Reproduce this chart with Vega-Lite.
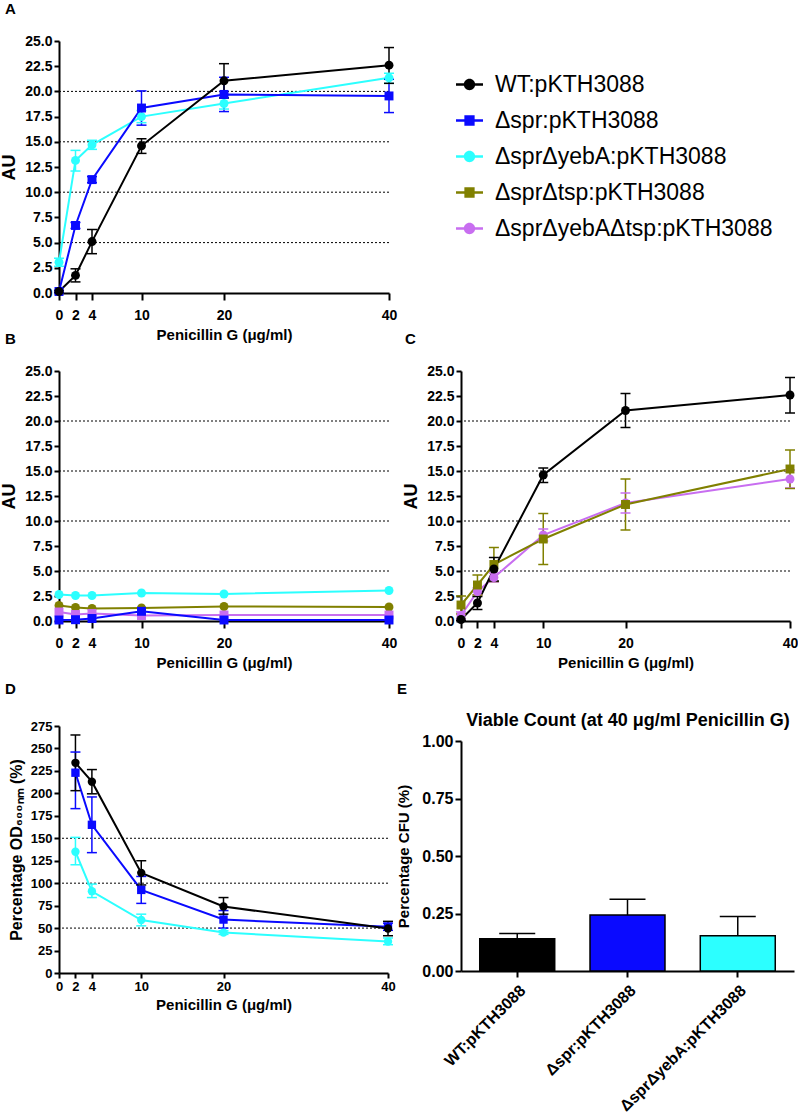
{
  "$schema": "https://vega.github.io/schema/vega-lite/v6.json",
  "padding": {"left": 0, "top": 2, "right": 0, "bottom": 0},
  "background": "white",
  "columns": 2,
  "spacing": {"row": -10, "column": -1},
  "align": {"row": "none", "column": "each"},
  "bounds": "full",
  "resolve": {"scale": {"color": "independent", "shape": "independent"}, "legend": {"color": "independent", "shape": "independent"}},
  "datasets": {
    "grid": [
      {"p": "A", "y": 5}, {"p": "A", "y": 10}, {"p": "A", "y": 15}, {"p": "A", "y": 20},
      {"p": "B", "y": 5}, {"p": "B", "y": 10}, {"p": "B", "y": 15}, {"p": "B", "y": 20},
      {"p": "C", "y": 5}, {"p": "C", "y": 10}, {"p": "C", "y": 15}, {"p": "C", "y": 20},
      {"p": "D", "y": 50}, {"p": "D", "y": 100}, {"p": "D", "y": 150}
    ],
    "curves": [
      {"p": "A", "s": "ΔsprΔyebA:pKTH3088", "x": 0, "y": 3.05, "lo": 2.65, "hi": 3.45},
      {"p": "A", "s": "ΔsprΔyebA:pKTH3088", "x": 2, "y": 13.15, "lo": 12.1, "hi": 14.15},
      {"p": "A", "s": "ΔsprΔyebA:pKTH3088", "x": 4, "y": 14.7, "lo": 14.25, "hi": 15.15},
      {"p": "A", "s": "ΔsprΔyebA:pKTH3088", "x": 10, "y": 17.5, "lo": 16.9, "hi": 18.1},
      {"p": "A", "s": "ΔsprΔyebA:pKTH3088", "x": 20, "y": 18.8, "lo": 18.25, "hi": 19.35},
      {"p": "A", "s": "ΔsprΔyebA:pKTH3088", "x": 40, "y": 21.35, "lo": 20.8, "hi": 21.8},
      {"p": "A", "s": "Δspr:pKTH3088", "x": 0, "y": 0.15, "lo": 0.05, "hi": 0.25},
      {"p": "A", "s": "Δspr:pKTH3088", "x": 2, "y": 6.7, "lo": 6.4, "hi": 7.0},
      {"p": "A", "s": "Δspr:pKTH3088", "x": 4, "y": 11.25, "lo": 10.95, "hi": 11.55},
      {"p": "A", "s": "Δspr:pKTH3088", "x": 10, "y": 18.35, "lo": 16.65, "hi": 20.05},
      {"p": "A", "s": "Δspr:pKTH3088", "x": 20, "y": 19.7, "lo": 18.0, "hi": 21.4},
      {"p": "A", "s": "Δspr:pKTH3088", "x": 40, "y": 19.55, "lo": 17.9, "hi": 21.2},
      {"p": "A", "s": "WT:pKTH3088", "x": 0, "y": 0.15, "lo": 0.05, "hi": 0.25},
      {"p": "A", "s": "WT:pKTH3088", "x": 2, "y": 1.75, "lo": 1.1, "hi": 2.4},
      {"p": "A", "s": "WT:pKTH3088", "x": 4, "y": 5.1, "lo": 3.9, "hi": 6.3},
      {"p": "A", "s": "WT:pKTH3088", "x": 10, "y": 14.6, "lo": 13.85, "hi": 15.3},
      {"p": "A", "s": "WT:pKTH3088", "x": 20, "y": 21.05, "lo": 19.35, "hi": 22.75},
      {"p": "A", "s": "WT:pKTH3088", "x": 40, "y": 22.6, "lo": 20.8, "hi": 24.35},

      {"p": "B", "s": "ΔsprΔyebA:pKTH3088", "x": 0, "y": 2.65},
      {"p": "B", "s": "ΔsprΔyebA:pKTH3088", "x": 2, "y": 2.55},
      {"p": "B", "s": "ΔsprΔyebA:pKTH3088", "x": 4, "y": 2.55},
      {"p": "B", "s": "ΔsprΔyebA:pKTH3088", "x": 10, "y": 2.8},
      {"p": "B", "s": "ΔsprΔyebA:pKTH3088", "x": 20, "y": 2.7},
      {"p": "B", "s": "ΔsprΔyebA:pKTH3088", "x": 40, "y": 3.05},
      {"p": "B", "s": "ΔsprΔtsp:pKTH3088", "x": 0, "y": 1.55},
      {"p": "B", "s": "ΔsprΔtsp:pKTH3088", "x": 2, "y": 1.35},
      {"p": "B", "s": "ΔsprΔtsp:pKTH3088", "x": 4, "y": 1.25},
      {"p": "B", "s": "ΔsprΔtsp:pKTH3088", "x": 10, "y": 1.3},
      {"p": "B", "s": "ΔsprΔtsp:pKTH3088", "x": 20, "y": 1.45},
      {"p": "B", "s": "ΔsprΔtsp:pKTH3088", "x": 40, "y": 1.4},
      {"p": "B", "s": "ΔsprΔyebAΔtsp:pKTH3088", "x": 0, "y": 0.9},
      {"p": "B", "s": "ΔsprΔyebAΔtsp:pKTH3088", "x": 2, "y": 0.65},
      {"p": "B", "s": "ΔsprΔyebAΔtsp:pKTH3088", "x": 4, "y": 0.75},
      {"p": "B", "s": "ΔsprΔyebAΔtsp:pKTH3088", "x": 10, "y": 0.55},
      {"p": "B", "s": "ΔsprΔyebAΔtsp:pKTH3088", "x": 20, "y": 0.6},
      {"p": "B", "s": "ΔsprΔyebAΔtsp:pKTH3088", "x": 40, "y": 0.6},
      {"p": "B", "s": "Δspr:pKTH3088", "x": 0, "y": 0.1},
      {"p": "B", "s": "Δspr:pKTH3088", "x": 2, "y": 0.13},
      {"p": "B", "s": "Δspr:pKTH3088", "x": 4, "y": 0.25},
      {"p": "B", "s": "Δspr:pKTH3088", "x": 10, "y": 0.97},
      {"p": "B", "s": "Δspr:pKTH3088", "x": 20, "y": 0.1},
      {"p": "B", "s": "Δspr:pKTH3088", "x": 40, "y": 0.1},

      {"p": "C", "s": "ΔsprΔyebAΔtsp:pKTH3088", "x": 0, "y": 0.55, "lo": 0.2, "hi": 0.9},
      {"p": "C", "s": "ΔsprΔyebAΔtsp:pKTH3088", "x": 2, "y": 2.95, "lo": 2.6, "hi": 3.3},
      {"p": "C", "s": "ΔsprΔyebAΔtsp:pKTH3088", "x": 4, "y": 4.35, "lo": 3.9, "hi": 4.8},
      {"p": "C", "s": "ΔsprΔyebAΔtsp:pKTH3088", "x": 10, "y": 8.6, "lo": 8.0, "hi": 9.2},
      {"p": "C", "s": "ΔsprΔyebAΔtsp:pKTH3088", "x": 20, "y": 11.8, "lo": 10.8, "hi": 12.8},
      {"p": "C", "s": "ΔsprΔyebAΔtsp:pKTH3088", "x": 40, "y": 14.2, "lo": 13.3, "hi": 15.1},
      {"p": "C", "s": "ΔsprΔtsp:pKTH3088", "x": 0, "y": 1.6, "lo": 0.7, "hi": 2.5},
      {"p": "C", "s": "ΔsprΔtsp:pKTH3088", "x": 2, "y": 3.6, "lo": 2.6, "hi": 4.6},
      {"p": "C", "s": "ΔsprΔtsp:pKTH3088", "x": 4, "y": 5.65, "lo": 3.95, "hi": 7.35},
      {"p": "C", "s": "ΔsprΔtsp:pKTH3088", "x": 10, "y": 8.2, "lo": 5.65, "hi": 10.75},
      {"p": "C", "s": "ΔsprΔtsp:pKTH3088", "x": 20, "y": 11.65, "lo": 9.1, "hi": 14.2},
      {"p": "C", "s": "ΔsprΔtsp:pKTH3088", "x": 40, "y": 15.2, "lo": 13.25, "hi": 17.1},
      {"p": "C", "s": "WT:pKTH3088", "x": 0, "y": 0.15, "lo": 0.05, "hi": 0.25},
      {"p": "C", "s": "WT:pKTH3088", "x": 2, "y": 1.8, "lo": 1.15, "hi": 2.45},
      {"p": "C", "s": "WT:pKTH3088", "x": 4, "y": 5.2, "lo": 4.0, "hi": 6.35},
      {"p": "C", "s": "WT:pKTH3088", "x": 10, "y": 14.6, "lo": 13.85, "hi": 15.3},
      {"p": "C", "s": "WT:pKTH3088", "x": 20, "y": 21.05, "lo": 19.35, "hi": 22.75},
      {"p": "C", "s": "WT:pKTH3088", "x": 40, "y": 22.6, "lo": 20.8, "hi": 24.35},

      {"p": "D", "s": "ΔsprΔyebA:pKTH3088", "x": 2, "y": 135, "lo": 120.5, "hi": 151},
      {"p": "D", "s": "ΔsprΔyebA:pKTH3088", "x": 4, "y": 91, "lo": 84, "hi": 99},
      {"p": "D", "s": "ΔsprΔyebA:pKTH3088", "x": 10, "y": 59, "lo": 52.5, "hi": 65.5},
      {"p": "D", "s": "ΔsprΔyebA:pKTH3088", "x": 20, "y": 45, "lo": 43, "hi": 47},
      {"p": "D", "s": "ΔsprΔyebA:pKTH3088", "x": 40, "y": 35, "lo": 31.5, "hi": 39},
      {"p": "D", "s": "Δspr:pKTH3088", "x": 2, "y": 223, "lo": 183, "hi": 246},
      {"p": "D", "s": "Δspr:pKTH3088", "x": 4, "y": 165, "lo": 134, "hi": 196},
      {"p": "D", "s": "Δspr:pKTH3088", "x": 10, "y": 92.5, "lo": 77.5, "hi": 107.5},
      {"p": "D", "s": "Δspr:pKTH3088", "x": 20, "y": 59.5, "lo": 50, "hi": 69.5},
      {"p": "D", "s": "Δspr:pKTH3088", "x": 40, "y": 51.5, "lo": 47.5, "hi": 55.5},
      {"p": "D", "s": "WT:pKTH3088", "x": 2, "y": 234, "lo": 203, "hi": 265},
      {"p": "D", "s": "WT:pKTH3088", "x": 4, "y": 213, "lo": 199.5, "hi": 226.5},
      {"p": "D", "s": "WT:pKTH3088", "x": 10, "y": 111.5, "lo": 98, "hi": 125},
      {"p": "D", "s": "WT:pKTH3088", "x": 20, "y": 74, "lo": 65.5, "hi": 84},
      {"p": "D", "s": "WT:pKTH3088", "x": 40, "y": 49.5, "lo": 41.5, "hi": 57.5}
    ],
    "bars": [
      {"s": "WT:pKTH3088", "y": 0.14, "hi": 0.163},
      {"s": "Δspr:pKTH3088", "y": 0.243, "hi": 0.312},
      {"s": "ΔsprΔyebA:pKTH3088", "y": 0.153, "hi": 0.237}
    ]
  },
  "concat": [
    {
      "title": {"text": "A", "dx": -54, "fontSize": 15, "offset": 17},
      "width": 330, "height": 252,
      "layer": [
        {"data": {"name": "grid"}, "transform": [{"filter": "datum.p === 'A'"}],
         "mark": {"type": "rule", "strokeDash": [2, 2], "color": "black", "strokeWidth": 1},
         "encoding": {"y": {"field": "y", "type": "quantitative", "title": "AU", "scale": {"domain": [0, 25], "nice": false},
           "axis": {"values": [0, 2.5, 5, 7.5, 10, 12.5, 15, 17.5, 20, 22.5, 25], "format": ".1f", "labelFontSize": 14, "tickSize": 5, "labelPadding": 2, "titleFontSize": 18, "titlePadding": 6, "labelOverlap": false, "labelFlush": false}}}},
        {"data": {"name": "curves"}, "transform": [{"filter": "datum.p === 'A'"}],
         "encoding": {
           "x": {"field": "x", "type": "quantitative", "title": "Penicillin G (μg/ml)", "scale": {"domain": [0, 40], "nice": false},
             "axis": {"values": [0, 2, 4, 10, 20, 40], "format": "d", "labelFontSize": 14, "tickSize": 7, "labelPadding": 8, "titleFontSize": 15, "titlePadding": 5, "labelOverlap": false, "labelFlush": false}},
           "color": {"field": "s", "type": "nominal", "legend": null, "scale": {"domain": ["WT:pKTH3088", "Δspr:pKTH3088", "ΔsprΔyebA:pKTH3088", "ΔsprΔtsp:pKTH3088", "ΔsprΔyebAΔtsp:pKTH3088"], "range": ["#000000", "#0a0aff", "#2cffff", "#808000", "#c86ef0"]}}
         },
         "layer": [
           {"mark": {"type": "line", "strokeWidth": 2},
            "encoding": {"y": {"field": "y", "type": "quantitative", "title": "AU", "scale": {"domain": [0, 25], "nice": false},
              "axis": {"values": [0, 2.5, 5, 7.5, 10, 12.5, 15, 17.5, 20, 22.5, 25], "format": ".1f", "labelFontSize": 14, "tickSize": 5, "labelPadding": 2, "titleFontSize": 18, "titlePadding": 6, "labelOverlap": false, "labelFlush": false}}}},
           {"mark": {"type": "rule", "strokeWidth": 1.5, "opacity": 1},
            "encoding": {"y": {"field": "lo", "type": "quantitative", "title": "AU", "scale": {"domain": [0, 25], "nice": false},
              "axis": {"values": [0, 2.5, 5, 7.5, 10, 12.5, 15, 17.5, 20, 22.5, 25], "format": ".1f", "labelFontSize": 14, "tickSize": 5, "labelPadding": 2, "titleFontSize": 18, "titlePadding": 6, "labelOverlap": false, "labelFlush": false}},
              "y2": {"field": "hi"}}},
           {"mark": {"type": "tick", "orient": "horizontal", "size": 10, "thickness": 1.5, "opacity": 1},
            "encoding": {"y": {"field": "hi", "type": "quantitative", "title": "AU", "scale": {"domain": [0, 25], "nice": false},
              "axis": {"values": [0, 2.5, 5, 7.5, 10, 12.5, 15, 17.5, 20, 22.5, 25], "format": ".1f", "labelFontSize": 14, "tickSize": 5, "labelPadding": 2, "titleFontSize": 18, "titlePadding": 6, "labelOverlap": false, "labelFlush": false}}}},
           {"mark": {"type": "tick", "orient": "horizontal", "size": 10, "thickness": 1.5, "opacity": 1},
            "encoding": {"y": {"field": "lo", "type": "quantitative", "title": "AU", "scale": {"domain": [0, 25], "nice": false},
              "axis": {"values": [0, 2.5, 5, 7.5, 10, 12.5, 15, 17.5, 20, 22.5, 25], "format": ".1f", "labelFontSize": 14, "tickSize": 5, "labelPadding": 2, "titleFontSize": 18, "titlePadding": 6, "labelOverlap": false, "labelFlush": false}}}},
           {"mark": {"type": "point", "filled": true, "opacity": 1, "size": 80},
            "encoding": {"y": {"field": "y", "type": "quantitative", "title": "AU", "scale": {"domain": [0, 25], "nice": false},
              "axis": {"values": [0, 2.5, 5, 7.5, 10, 12.5, 15, 17.5, 20, 22.5, 25], "format": ".1f", "labelFontSize": 14, "tickSize": 5, "labelPadding": 2, "titleFontSize": 18, "titlePadding": 6, "labelOverlap": false, "labelFlush": false}},
              "shape": {"field": "s", "type": "nominal", "legend": null, "scale": {"domain": ["WT:pKTH3088", "Δspr:pKTH3088", "ΔsprΔyebA:pKTH3088", "ΔsprΔtsp:pKTH3088", "ΔsprΔyebAΔtsp:pKTH3088"], "range": ["circle", "square", "circle", "square", "circle"]}}}}
         ]}
      ]
    },
    {
      "width": 300, "height": 150,
      "data": {"values": [{"s": "WT:pKTH3088"}, {"s": "Δspr:pKTH3088"}, {"s": "ΔsprΔyebA:pKTH3088"}, {"s": "ΔsprΔtsp:pKTH3088"}, {"s": "ΔsprΔyebAΔtsp:pKTH3088"}]},
      "mark": {"type": "point", "filled": true, "size": 0, "opacity": 1},
      "encoding": {
        "color": {"field": "s", "type": "nominal",
          "scale": {"domain": ["WT:pKTH3088", "Δspr:pKTH3088", "ΔsprΔyebA:pKTH3088", "ΔsprΔtsp:pKTH3088", "ΔsprΔyebAΔtsp:pKTH3088"], "range": ["#000000", "#0a0aff", "#2cffff", "#808000", "#c86ef0"]},
          "legend": {"orient": "none", "legendX": -5, "legendY": 30, "title": null, "labelFontSize": 23, "labelFont": "Liberation Sans", "labelFontWeight": "normal", "labelColor": "black", "symbolSize": 729, "symbolOpacity": 1, "symbolStrokeWidth": 0, "rowPadding": 10, "labelOffset": 12, "labelLimit": 400}},
        "shape": {"field": "s", "type": "nominal",
          "scale": {"domain": ["WT:pKTH3088", "Δspr:pKTH3088", "ΔsprΔyebA:pKTH3088", "ΔsprΔtsp:pKTH3088", "ΔsprΔyebAΔtsp:pKTH3088"],
            "range": ["M-1,-0.1H1V0.1H-1Z M0.42,0A0.42,0.42,0,1,1,-0.42,0A0.42,0.42,0,1,1,0.42,0Z", "M-1,-0.1H1V0.1H-1Z M-0.38,-0.38H0.38V0.38H-0.38Z", "M-1,-0.1H1V0.1H-1Z M0.42,0A0.42,0.42,0,1,1,-0.42,0A0.42,0.42,0,1,1,0.42,0Z", "M-1,-0.1H1V0.1H-1Z M-0.38,-0.38H0.38V0.38H-0.38Z", "M-1,-0.1H1V0.1H-1Z M0.42,0A0.42,0.42,0,1,1,-0.42,0A0.42,0.42,0,1,1,0.42,0Z"]}}
      }
    },
    {
      "title": {"text": "B", "dx": -54, "fontSize": 15, "offset": 17},
      "width": 330, "height": 250,
      "layer": [
        {"data": {"name": "grid"}, "transform": [{"filter": "datum.p === 'B'"}],
         "mark": {"type": "rule", "strokeDash": [2, 2], "color": "black", "strokeWidth": 1},
         "encoding": {"y": {"field": "y", "type": "quantitative", "title": "AU", "scale": {"domain": [0, 25], "nice": false},
           "axis": {"values": [0, 2.5, 5, 7.5, 10, 12.5, 15, 17.5, 20, 22.5, 25], "format": ".1f", "labelFontSize": 14, "tickSize": 5, "labelPadding": 2, "titleFontSize": 18, "titlePadding": 6, "labelOverlap": false, "labelFlush": false}}}},
        {"data": {"name": "curves"}, "transform": [{"filter": "datum.p === 'B'"}],
         "encoding": {
           "x": {"field": "x", "type": "quantitative", "title": ["Penicillin G (μg/ml)", " "], "scale": {"domain": [0, 40], "nice": false},
             "axis": {"values": [0, 2, 4, 10, 20, 40], "format": "d", "labelFontSize": 14, "tickSize": 7, "labelPadding": 8, "titleFontSize": 15, "titlePadding": 5, "titleLineHeight": 22, "labelOverlap": false, "labelFlush": false}},
           "y": {"field": "y", "type": "quantitative", "title": "AU", "scale": {"domain": [0, 25], "nice": false},
             "axis": {"values": [0, 2.5, 5, 7.5, 10, 12.5, 15, 17.5, 20, 22.5, 25], "format": ".1f", "labelFontSize": 14, "tickSize": 5, "labelPadding": 2, "titleFontSize": 18, "titlePadding": 6, "labelOverlap": false, "labelFlush": false}},
           "color": {"field": "s", "type": "nominal", "legend": null, "scale": {"domain": ["WT:pKTH3088", "Δspr:pKTH3088", "ΔsprΔyebA:pKTH3088", "ΔsprΔtsp:pKTH3088", "ΔsprΔyebAΔtsp:pKTH3088"], "range": ["#000000", "#0a0aff", "#2cffff", "#808000", "#c86ef0"]}}
         },
         "layer": [
           {"mark": {"type": "line", "strokeWidth": 2}},
           {"mark": {"type": "point", "filled": true, "opacity": 1, "size": 80},
            "encoding": {"shape": {"field": "s", "type": "nominal", "legend": null, "scale": {"domain": ["WT:pKTH3088", "Δspr:pKTH3088", "ΔsprΔyebA:pKTH3088", "ΔsprΔtsp:pKTH3088", "ΔsprΔyebAΔtsp:pKTH3088"], "range": ["circle", "square", "circle", "circle", "square"]}}}}
         ]}
      ]
    },
    {
      "title": {"text": "C", "dx": -56, "fontSize": 15, "offset": 17},
      "width": 329, "height": 250,
      "layer": [
        {"data": {"name": "grid"}, "transform": [{"filter": "datum.p === 'C'"}],
         "mark": {"type": "rule", "strokeDash": [2, 2], "color": "black", "strokeWidth": 1},
         "encoding": {"y": {"field": "y", "type": "quantitative", "title": "AU", "scale": {"domain": [0, 25], "nice": false},
           "axis": {"values": [0, 2.5, 5, 7.5, 10, 12.5, 15, 17.5, 20, 22.5, 25], "format": ".1f", "labelFontSize": 14, "tickSize": 5, "labelPadding": 2, "titleFontSize": 18, "titlePadding": 6, "labelOverlap": false, "labelFlush": false}}}},
        {"data": {"name": "curves"}, "transform": [{"filter": "datum.p === 'C'"}],
         "encoding": {
           "x": {"field": "x", "type": "quantitative", "title": ["Penicillin G (μg/ml)", " "], "scale": {"domain": [0, 40], "nice": false},
             "axis": {"values": [0, 2, 4, 10, 20, 40], "format": "d", "labelFontSize": 14, "tickSize": 7, "labelPadding": 8, "titleFontSize": 15, "titlePadding": 5, "titleLineHeight": 22, "labelOverlap": false, "labelFlush": false}},
           "color": {"field": "s", "type": "nominal", "legend": null, "scale": {"domain": ["WT:pKTH3088", "Δspr:pKTH3088", "ΔsprΔyebA:pKTH3088", "ΔsprΔtsp:pKTH3088", "ΔsprΔyebAΔtsp:pKTH3088"], "range": ["#000000", "#0a0aff", "#2cffff", "#808000", "#c86ef0"]}}
         },
         "layer": [
           {"mark": {"type": "line", "strokeWidth": 2},
            "encoding": {"y": {"field": "y", "type": "quantitative", "title": "AU", "scale": {"domain": [0, 25], "nice": false},
              "axis": {"values": [0, 2.5, 5, 7.5, 10, 12.5, 15, 17.5, 20, 22.5, 25], "format": ".1f", "labelFontSize": 14, "tickSize": 5, "labelPadding": 2, "titleFontSize": 18, "titlePadding": 6, "labelOverlap": false, "labelFlush": false}}}},
           {"mark": {"type": "rule", "strokeWidth": 1.5, "opacity": 1},
            "encoding": {"y": {"field": "lo", "type": "quantitative", "title": "AU", "scale": {"domain": [0, 25], "nice": false},
              "axis": {"values": [0, 2.5, 5, 7.5, 10, 12.5, 15, 17.5, 20, 22.5, 25], "format": ".1f", "labelFontSize": 14, "tickSize": 5, "labelPadding": 2, "titleFontSize": 18, "titlePadding": 6, "labelOverlap": false, "labelFlush": false}},
              "y2": {"field": "hi"}}},
           {"mark": {"type": "tick", "orient": "horizontal", "size": 10, "thickness": 1.5, "opacity": 1},
            "encoding": {"y": {"field": "hi", "type": "quantitative", "title": "AU", "scale": {"domain": [0, 25], "nice": false},
              "axis": {"values": [0, 2.5, 5, 7.5, 10, 12.5, 15, 17.5, 20, 22.5, 25], "format": ".1f", "labelFontSize": 14, "tickSize": 5, "labelPadding": 2, "titleFontSize": 18, "titlePadding": 6, "labelOverlap": false, "labelFlush": false}}}},
           {"mark": {"type": "tick", "orient": "horizontal", "size": 10, "thickness": 1.5, "opacity": 1},
            "encoding": {"y": {"field": "lo", "type": "quantitative", "title": "AU", "scale": {"domain": [0, 25], "nice": false},
              "axis": {"values": [0, 2.5, 5, 7.5, 10, 12.5, 15, 17.5, 20, 22.5, 25], "format": ".1f", "labelFontSize": 14, "tickSize": 5, "labelPadding": 2, "titleFontSize": 18, "titlePadding": 6, "labelOverlap": false, "labelFlush": false}}}},
           {"mark": {"type": "point", "filled": true, "opacity": 1, "size": 80},
            "encoding": {"y": {"field": "y", "type": "quantitative", "title": "AU", "scale": {"domain": [0, 25], "nice": false},
              "axis": {"values": [0, 2.5, 5, 7.5, 10, 12.5, 15, 17.5, 20, 22.5, 25], "format": ".1f", "labelFontSize": 14, "tickSize": 5, "labelPadding": 2, "titleFontSize": 18, "titlePadding": 6, "labelOverlap": false, "labelFlush": false}},
              "shape": {"field": "s", "type": "nominal", "legend": null, "scale": {"domain": ["WT:pKTH3088", "Δspr:pKTH3088", "ΔsprΔyebA:pKTH3088", "ΔsprΔtsp:pKTH3088", "ΔsprΔyebAΔtsp:pKTH3088"], "range": ["circle", "square", "circle", "square", "circle"]}}}}
         ]}
      ]
    },
    {
      "title": {"text": "D", "dx": -54, "fontSize": 15, "offset": 23},
      "width": 329, "height": 247,
      "layer": [
        {"data": {"name": "grid"}, "transform": [{"filter": "datum.p === 'D'"}],
         "mark": {"type": "rule", "strokeDash": [2, 2], "color": "black", "strokeWidth": 1},
         "encoding": {"y": {"field": "y", "type": "quantitative", "title": "Percentage OD₆₀₀ₙₘ (%)", "scale": {"domain": [0, 275], "nice": false},
           "axis": {"values": [0, 25, 50, 75, 100, 125, 150, 175, 200, 225, 250, 275], "format": "d", "labelFontSize": 13, "tickSize": 5, "labelPadding": 2, "titleFontSize": 16, "titlePadding": 6, "labelOverlap": false, "labelFlush": false}}}},
        {"data": {"name": "curves"}, "transform": [{"filter": "datum.p === 'D'"}],
         "encoding": {
           "x": {"field": "x", "type": "quantitative", "title": "Penicillin G (μg/ml)", "scale": {"domain": [0, 40], "nice": false},
             "axis": {"values": [0, 2, 4, 10, 20, 40], "format": "d", "labelFontSize": 13, "tickSize": 5, "labelPadding": 2, "titleFontSize": 15, "titlePadding": 4, "labelOverlap": false, "labelFlush": false}},
           "color": {"field": "s", "type": "nominal", "legend": null, "scale": {"domain": ["WT:pKTH3088", "Δspr:pKTH3088", "ΔsprΔyebA:pKTH3088", "ΔsprΔtsp:pKTH3088", "ΔsprΔyebAΔtsp:pKTH3088"], "range": ["#000000", "#0a0aff", "#2cffff", "#808000", "#c86ef0"]}}
         },
         "layer": [
           {"mark": {"type": "line", "strokeWidth": 2},
            "encoding": {"y": {"field": "y", "type": "quantitative", "title": "Percentage OD₆₀₀ₙₘ (%)", "scale": {"domain": [0, 275], "nice": false},
              "axis": {"values": [0, 25, 50, 75, 100, 125, 150, 175, 200, 225, 250, 275], "format": "d", "labelFontSize": 13, "tickSize": 5, "labelPadding": 2, "titleFontSize": 16, "titlePadding": 6, "labelOverlap": false, "labelFlush": false}}}},
           {"mark": {"type": "rule", "strokeWidth": 1.5, "opacity": 1},
            "encoding": {"y": {"field": "lo", "type": "quantitative", "title": "Percentage OD₆₀₀ₙₘ (%)", "scale": {"domain": [0, 275], "nice": false},
              "axis": {"values": [0, 25, 50, 75, 100, 125, 150, 175, 200, 225, 250, 275], "format": "d", "labelFontSize": 13, "tickSize": 5, "labelPadding": 2, "titleFontSize": 16, "titlePadding": 6, "labelOverlap": false, "labelFlush": false}},
              "y2": {"field": "hi"}}},
           {"mark": {"type": "tick", "orient": "horizontal", "size": 10, "thickness": 1.5, "opacity": 1},
            "encoding": {"y": {"field": "hi", "type": "quantitative", "title": "Percentage OD₆₀₀ₙₘ (%)", "scale": {"domain": [0, 275], "nice": false},
              "axis": {"values": [0, 25, 50, 75, 100, 125, 150, 175, 200, 225, 250, 275], "format": "d", "labelFontSize": 13, "tickSize": 5, "labelPadding": 2, "titleFontSize": 16, "titlePadding": 6, "labelOverlap": false, "labelFlush": false}}}},
           {"mark": {"type": "tick", "orient": "horizontal", "size": 10, "thickness": 1.5, "opacity": 1},
            "encoding": {"y": {"field": "lo", "type": "quantitative", "title": "Percentage OD₆₀₀ₙₘ (%)", "scale": {"domain": [0, 275], "nice": false},
              "axis": {"values": [0, 25, 50, 75, 100, 125, 150, 175, 200, 225, 250, 275], "format": "d", "labelFontSize": 13, "tickSize": 5, "labelPadding": 2, "titleFontSize": 16, "titlePadding": 6, "labelOverlap": false, "labelFlush": false}}}},
           {"mark": {"type": "point", "filled": true, "opacity": 1, "size": 70},
            "encoding": {"y": {"field": "y", "type": "quantitative", "title": "Percentage OD₆₀₀ₙₘ (%)", "scale": {"domain": [0, 275], "nice": false},
              "axis": {"values": [0, 25, 50, 75, 100, 125, 150, 175, 200, 225, 250, 275], "format": "d", "labelFontSize": 13, "tickSize": 5, "labelPadding": 2, "titleFontSize": 16, "titlePadding": 6, "labelOverlap": false, "labelFlush": false}},
              "shape": {"field": "s", "type": "nominal", "legend": null, "scale": {"domain": ["WT:pKTH3088", "Δspr:pKTH3088", "ΔsprΔyebA:pKTH3088", "ΔsprΔtsp:pKTH3088", "ΔsprΔyebAΔtsp:pKTH3088"], "range": ["circle", "square", "circle", "square", "circle"]}}}}
         ]}
      ]
    },
    {
      "title": {"text": "E", "dx": -64, "fontSize": 15, "offset": 14},
      "width": 333, "height": 230,
      "data": {"name": "bars"},
      "resolve": {"axis": {"x": "independent"}},
      "layer": [
        {"mark": {"type": "bar", "stroke": "black", "strokeWidth": 1.5},
         "encoding": {
           "x": {"field": "s", "type": "nominal", "sort": null, "title": null, "scale": {"paddingInner": 0.32, "paddingOuter": 0.17},
             "axis": {"labelAngle": -45, "labelFontSize": 16, "tickSize": 6, "labelPadding": 5, "labelLimit": 300}},
           "y": {"field": "y", "type": "quantitative", "title": "Percentage CFU (%)", "scale": {"domain": [0, 1], "nice": false},
             "axis": {"values": [0, 0.25, 0.5, 0.75, 1], "format": ".2f", "labelFontSize": 16, "tickSize": 6, "labelPadding": 2, "titleFontSize": 15, "titlePadding": 10, "labelFlush": false, "labelOverlap": false}},
           "color": {"field": "s", "type": "nominal", "legend": null, "scale": {"domain": ["WT:pKTH3088", "Δspr:pKTH3088", "ΔsprΔyebA:pKTH3088"], "range": ["#000000", "#0a0aff", "#2cffff"]}}}},
        {"mark": {"type": "rule", "color": "black", "strokeWidth": 1.5, "opacity": 1},
         "encoding": {
           "x": {"field": "s", "type": "nominal", "sort": null, "title": "Viable Count (at 40 μg/ml Penicillin G)",
             "axis": {"orient": "top", "labels": false, "ticks": false, "domain": false, "titleFontSize": 18, "titlePadding": 12}},
           "y": {"field": "y", "type": "quantitative", "title": "Percentage CFU (%)", "scale": {"domain": [0, 1], "nice": false},
             "axis": {"values": [0, 0.25, 0.5, 0.75, 1], "format": ".2f", "labelFontSize": 16, "tickSize": 6, "labelPadding": 2, "titleFontSize": 15, "titlePadding": 10, "labelFlush": false, "labelOverlap": false}},
           "y2": {"field": "hi"}}},
        {"mark": {"type": "tick", "orient": "horizontal", "color": "black", "thickness": 1.5, "size": 36, "opacity": 1},
         "encoding": {
           "x": {"field": "s", "type": "nominal", "sort": null, "axis": null},
           "y": {"field": "hi", "type": "quantitative", "title": "Percentage CFU (%)", "scale": {"domain": [0, 1], "nice": false},
             "axis": {"values": [0, 0.25, 0.5, 0.75, 1], "format": ".2f", "labelFontSize": 16, "tickSize": 6, "labelPadding": 2, "titleFontSize": 15, "titlePadding": 10, "labelFlush": false, "labelOverlap": false}}}}
      ]
    }
  ],
  "config": {
    "font": "Liberation Sans",
    "view": {"stroke": null},
    "axis": {"domainColor": "black", "domainWidth": 2, "tickColor": "black", "tickWidth": 2, "labelColor": "black", "labelFontWeight": "bold", "labelFont": "Liberation Sans", "titleColor": "black", "titleFontWeight": "bold", "titleFont": "Liberation Sans", "grid": false},
    "title": {"font": "Liberation Sans", "fontWeight": "bold", "color": "black", "anchor": "start", "frame": "group"},
    "legend": {"labelFont": "Liberation Sans"}
  }
}
